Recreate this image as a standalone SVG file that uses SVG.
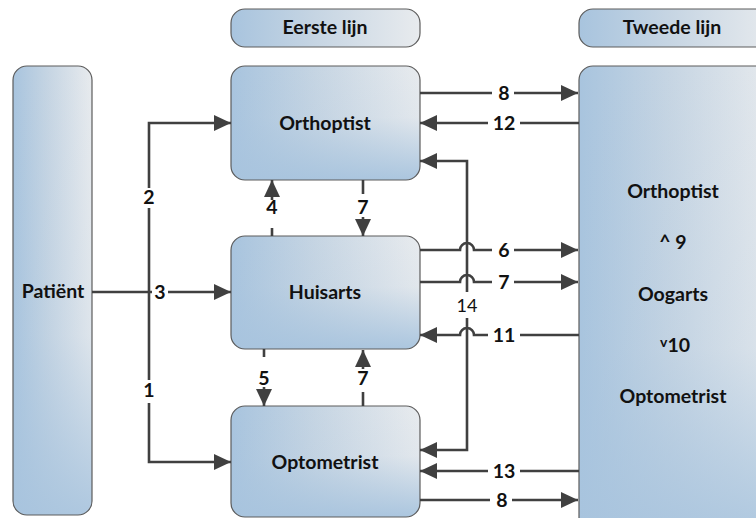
<svg xmlns="http://www.w3.org/2000/svg" width="756" height="518" viewBox="0 0 756 518">
<style>
.t{font-family:Lato,"Liberation Sans",sans-serif;font-weight:bold;font-size:19.5px;fill:#111;text-anchor:middle}
.n{font-family:Lato,"Liberation Sans",sans-serif;font-weight:bold;font-size:19.5px;fill:#111;text-anchor:middle}
.p{font-family:Lato,"Liberation Sans",sans-serif;font-size:18px;fill:#111;text-anchor:middle}
.box{stroke:#5c5c5c;stroke-width:1.2}
.c{fill:none;stroke:#404040;stroke-width:2.6;marker-end:url(#a)}
.bg{fill:#fff}
</style>
<defs>
<linearGradient id="gh" x1="0" y1="0" x2="1" y2="0">
<stop offset="0" stop-color="#a8c4de"/>
<stop offset="0.45" stop-color="#c6d5e3"/>
<stop offset="1" stop-color="#e8ebee"/>
</linearGradient>
<linearGradient id="gv" x1="0" y1="0" x2="0" y2="1">
<stop offset="0" stop-color="#a8c4de" stop-opacity="0"/>
<stop offset="0.45" stop-color="#a8c4de" stop-opacity="0.1"/>
<stop offset="1" stop-color="#a8c4de" stop-opacity="0.95"/>
</linearGradient>
<linearGradient id="gv2" x1="0" y1="0" x2="0" y2="1">
<stop offset="0" stop-color="#a8c4de" stop-opacity="0"/>
<stop offset="0.6" stop-color="#a8c4de" stop-opacity="0.15"/>
<stop offset="1" stop-color="#a8c4de" stop-opacity="0.9"/>
</linearGradient>
<marker id="a" markerUnits="userSpaceOnUse" markerWidth="18" markerHeight="17" refX="17" refY="8" orient="auto" overflow="visible">
<path d="M0,0 L17,8 L0,16 Z" fill="#404040"/>
</marker>
</defs>

<g id="hdr-eerste">
<rect x="231" y="9" width="189" height="38" rx="14" fill="url(#gh)" class="box"/>
<text x="325" y="34" class="t">Eerste lijn</text>
</g>
<g id="hdr-tweede">
<rect x="579" y="9" width="200" height="38" rx="14" fill="url(#gh)" class="box"/>
<text x="672" y="34" class="t">Tweede lijn</text>
</g>

<g id="patient">
<rect x="13" y="66" width="79" height="449" rx="14" fill="url(#gh)"/>
<rect x="13" y="66" width="79" height="449" rx="14" fill="url(#gv2)" class="box"/>
<text x="53" y="298" class="t">Patiënt</text>
</g>

<g id="orthoptist">
<rect x="231" y="66" width="189" height="114" rx="14" fill="url(#gh)"/>
<rect x="231" y="66" width="189" height="114" rx="14" fill="url(#gv)" class="box"/>
<text x="325" y="130" class="t">Orthoptist</text>
</g>

<g id="huisarts">
<rect x="231" y="236" width="189" height="113" rx="14" fill="url(#gh)"/>
<rect x="231" y="236" width="189" height="113" rx="14" fill="url(#gv)" class="box"/>
<text x="325" y="299" class="t">Huisarts</text>
</g>

<g id="optometrist">
<rect x="231" y="406" width="189" height="111" rx="14" fill="url(#gh)"/>
<rect x="231" y="406" width="189" height="111" rx="14" fill="url(#gv)" class="box"/>
<text x="325" y="469" class="t">Optometrist</text>
</g>

<g id="tweede-lijn">
<rect x="579" y="66" width="200" height="470" rx="14" fill="url(#gh)"/>
<rect x="579" y="66" width="200" height="470" rx="14" fill="url(#gv2)" class="box"/>
<text x="673" y="198" class="t">Orthoptist</text>
<text x="673" y="249" class="t">^ 9</text>
<text x="673" y="301" class="t">Oogarts</text>
<text x="675" y="352" class="t"><tspan font-size="14" dy="-5">v</tspan><tspan dy="5">10</tspan></text>
<text x="673" y="403" class="t">Optometrist</text>
</g>

<g id="connectors">
<path class="c" d="M92,292 H231"/>
<path class="c" d="M149,292 V123 H231"/>
<path class="c" d="M149,292 V462 H231"/>
<path class="c" d="M272,236 V180"/>
<path class="c" d="M363,180 V236"/>
<path class="c" d="M264,349 V406"/>
<path class="c" d="M363,406 V350"/>
<path class="c" d="M420,93 H578"/>
<path class="c" d="M579,123 H420"/>
<path class="c" d="M467,305 V161 H420"/>
<path class="c" d="M467,305 V450 H420"/>
<path class="c" d="M420,250 H460 A7,7 0 0 1 474,250 H578"/>
<path class="c" d="M420,282 H460 A7,7 0 0 1 474,282 H578"/>
<path class="c" d="M579,335 H474 A7,7 0 0 0 460,335 H420"/>
<path class="c" d="M579,471 H420"/>
<path class="c" d="M420,500 H578"/>

<rect class="bg" x="152" y="284" width="16" height="16"/>
<rect class="bg" x="141" y="188" width="16" height="20"/>
<rect class="bg" x="141" y="380" width="16" height="23"/>
<rect class="bg" x="264" y="200" width="16" height="28"/>
<rect class="bg" x="355" y="194" width="16" height="23"/>
<rect class="bg" x="256" y="357" width="16" height="30"/>
<rect class="bg" x="355" y="369" width="16" height="23"/>
<rect class="bg" x="492" y="84" width="22" height="18"/>
<rect class="bg" x="488" y="114" width="32" height="18"/>
<rect class="bg" x="492" y="241" width="22" height="18"/>
<rect class="bg" x="492" y="273" width="22" height="18"/>
<rect class="bg" x="488" y="326" width="32" height="18"/>
<rect class="bg" x="488" y="462" width="32" height="18"/>
<rect class="bg" x="490" y="491" width="22" height="18"/>
<rect class="bg" x="455" y="292" width="25" height="26"/>

<text x="160" y="299" class="n">3</text>
<text x="149" y="204" class="n">2</text>
<text x="149" y="397" class="n">1</text>
<text x="272" y="214" class="n">4</text>
<text x="363" y="214" class="n">7</text>
<text x="264" y="385" class="n">5</text>
<text x="363" y="385" class="n">7</text>
<text x="504" y="100" class="n">8</text>
<text x="504" y="130" class="n">12</text>
<text x="504" y="257" class="n">6</text>
<text x="504" y="289" class="n">7</text>
<text x="504" y="342" class="n">11</text>
<text x="504" y="478" class="n">13</text>
<text x="502" y="507" class="n">8</text>
<text x="467" y="312" class="p">14</text>
</g>
</svg>
